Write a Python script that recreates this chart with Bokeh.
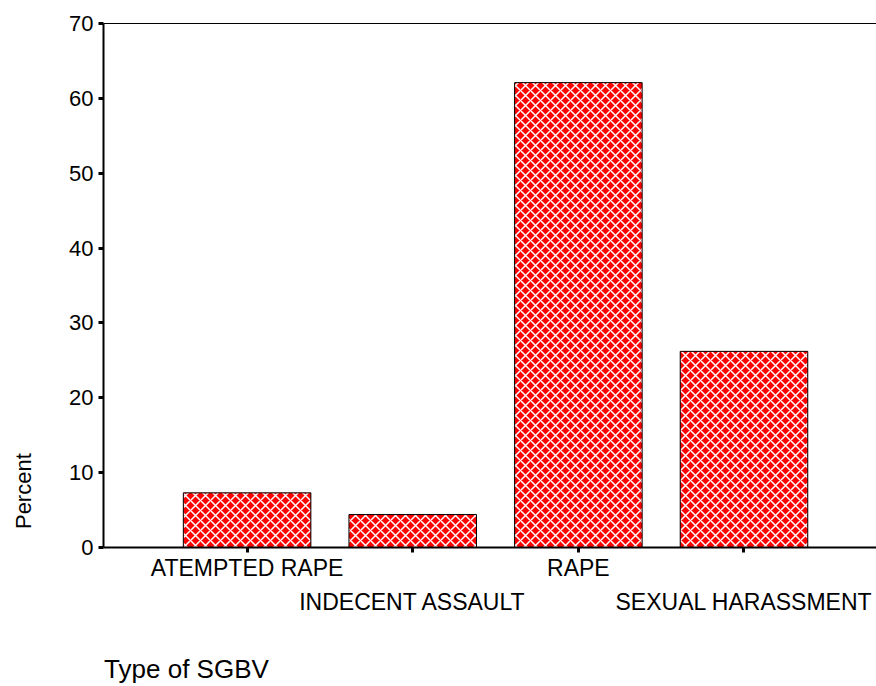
from bokeh.plotting import figure
from bokeh.models import Range1d, FixedTicker, LinearAxis, ColumnDataSource
from bokeh.embed import file_html
from bokeh.resources import INLINE

# ---- data ----
categories = ["ATEMPTED RAPE", "INDECENT ASSAULT", "RAPE", "SEXUAL HARASSMENT"]
percent = [7.3, 4.4, 62.1, 26.2]
positions = [1, 2, 3, 4]
y_ticks = [0, 10, 20, 30, 40, 50, 60, 70]
x_title = "Type of SGBV"
y_title = "Percent"

FONT = "Liberation Sans"

X0, X1 = 0.133, 4.8
src = ColumnDataSource(dict(x=positions, top=percent, cat=categories))

p = figure(width=876, height=686,
           x_range=Range1d(X0, X1), y_range=Range1d(0, 70),
           x_axis_type=None, y_axis_type=None,
           output_backend="svg", toolbar_location=None,
           min_border_left=103, min_border_right=0,
           min_border_top=23, min_border_bottom=138)
p.outline_line_color = None
p.xgrid.visible = False
p.ygrid.visible = False
p.background_fill_color = "white"
p.border_fill_color = "white"

p.vbar(x="x", top="top", width=0.77, bottom=0, source=src,
       fill_color="#ff0000", line_color="black", line_width=1,
       hatch_pattern="x", hatch_color="white", hatch_scale=10, hatch_weight=1.5)

# y axis
yax = LinearAxis(ticker=FixedTicker(ticks=y_ticks))
yax.axis_line_width = 2
yax.axis_line_color = "black"
yax.major_tick_in = 0
yax.major_tick_out = 5
yax.major_tick_line_width = 3
yax.minor_tick_line_color = None
yax.major_label_standoff = 5
yax.major_label_text_font = FONT
yax.major_label_text_font_size = "22px"
yax.major_label_text_color = "black"
p.add_layout(yax, "left")

# y title, drawn as the single label of an outer, line-less axis
YT = 7.53
yt = LinearAxis(ticker=FixedTicker(ticks=[YT]))
yt.major_label_overrides = {YT: y_title}
yt.major_label_orientation = "parallel"
yt.axis_line_color = None
yt.major_tick_line_color = None
yt.minor_tick_line_color = None
yt.major_tick_in = 0
yt.major_tick_out = 0
yt.major_label_standoff = 30
yt.major_label_text_font = FONT
yt.major_label_text_font_size = "22px"
yt.major_label_text_color = "black"
p.add_layout(yt, "left")

# x axis (first row of labels)
ax1 = LinearAxis(ticker=FixedTicker(ticks=positions))
ax1.major_label_overrides = {1: categories[0], 2: "", 3: categories[2], 4: ""}
ax1.axis_line_width = 2
ax1.major_tick_in = 0
ax1.major_tick_out = 5
ax1.major_tick_line_width = 3
ax1.minor_tick_line_color = None
ax1.major_label_standoff = 2
ax1.major_label_text_font = FONT
ax1.major_label_text_font_size = "23px"
ax1.major_label_text_color = "black"
p.add_layout(ax1, "below")

# x axis (second, staggered row of labels)
ax2 = LinearAxis(ticker=FixedTicker(ticks=positions))
ax2.major_label_overrides = {1: "", 2: categories[1], 3: "", 4: categories[3]}
ax2.axis_line_color = None
ax2.major_tick_line_color = None
ax2.major_tick_in = 0
ax2.major_tick_out = 0
ax2.minor_tick_line_color = None
ax2.major_label_standoff = 5
ax2.major_label_text_font = FONT
ax2.major_label_text_font_size = "23px"
ax2.major_label_text_color = "black"
p.add_layout(ax2, "below")

# x title, drawn as the single label of an outer axis (left edge at frame left)
XT = 0.634
xt = LinearAxis(ticker=FixedTicker(ticks=[XT]))
xt.major_label_overrides = {XT: x_title}
xt.axis_line_color = None
xt.major_tick_line_color = None
xt.minor_tick_line_color = None
xt.major_tick_in = 0
xt.major_tick_out = 0
xt.major_label_standoff = 36
xt.major_label_text_font = FONT
xt.major_label_text_font_size = "26px"
xt.major_label_text_color = "black"
p.add_layout(xt, "below")

# top line
top = LinearAxis(ticker=FixedTicker(ticks=[]))
top.axis_line_width = 1
top.major_tick_out = 0
top.major_tick_in = 0
top.minor_tick_line_color = None
top.major_label_standoff = 0
p.add_layout(top, "above")

open("out.html", "w").write(file_html(p, INLINE))
